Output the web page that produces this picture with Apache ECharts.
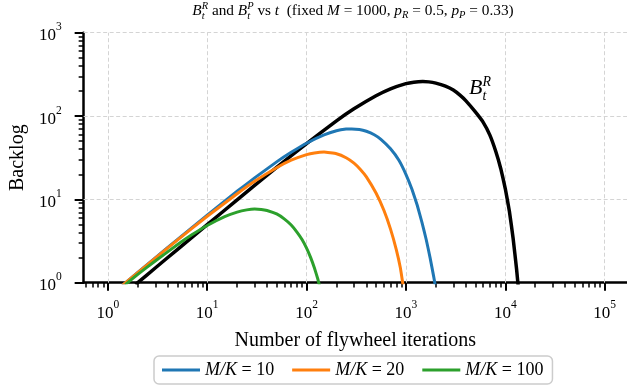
<!DOCTYPE html>
<html><head><meta charset="utf-8">
<script src="https://cdn.jsdelivr.net/npm/echarts@6/dist/echarts.min.js"></script>
<style>html,body{margin:0;padding:0;background:#fff}#c{width:627px;height:391px}</style>
</head><body><div id="c"></div>
<script>
const FONT = '"Liberation Serif", "DejaVu Serif", serif';

// ---- data ----
const tBlack = [1.9, 2, 3, 5, 10, 20, 30, 50, 100, 200, 300, 500, 700, 1000, 1200, 1480, 1700, 2000, 2500, 3000, 3500, 4000, 5000, 6000, 7000, 8000, 9000, 10000, 11000, 12000, 13000, 13700];
const bBlack = [0.95, 1.0, 1.5, 2.5, 4.97, 9.87, 14.7, 24.2, 46.7, 87.4, 122, 175, 212, 245, 255, 259, 257, 248, 228, 205, 178, 153, 112, 84, 59, 38, 23.5, 13.5, 7.2, 3.4, 1.45, 0.75];

const tBlue = [1.4, 2, 3, 5, 10, 20, 30, 50, 70, 100, 150, 200, 250, 285, 340, 400, 480, 560, 700, 850, 1000, 1150, 1300, 1450, 1600, 1750, 1900, 2000];
const bBlue = [0.93, 1.33, 1.99, 3.29, 6.47, 12.5, 18.1, 28.2, 36.7, 47.2, 59.4, 66.5, 69.7, 70.0, 69.1, 65.7, 59.7, 52.6, 40.5, 29.5, 20.0, 13.2, 8.5, 5.3, 3.3, 2.0, 1.2, 0.85];

const tOrange = [1.4, 2, 3, 5, 10, 20, 30, 50, 70, 100, 120, 150, 200, 250, 300, 350, 400, 500, 600, 700, 800, 880, 940];
const bOrange = [0.93, 1.32, 1.97, 3.24, 6.27, 11.7, 16.5, 24.0, 29.5, 34.4, 36.1, 37.0, 35.3, 31.6, 27.2, 22.7, 18.6, 11.9, 7.4, 4.4, 2.5, 1.5, 0.9];

const tGreen = [1.5, 2, 3, 5, 7, 10, 15, 20, 25, 30, 35, 40, 50, 60, 70, 80, 90, 100, 110, 120, 130, 137];
const bGreen = [0.95, 1.26, 1.82, 2.85, 3.75, 4.86, 6.2, 7.03, 7.48, 7.66, 7.58, 7.35, 6.68, 5.8, 4.92, 4.05, 3.3, 2.6, 2.0, 1.5, 1.1, 0.85];

const seriesNames = ['M/K = 10', 'M/K = 20', 'M/K = 100'];
const seriesColors = ['#1f77b4', '#ff7f0e', '#2ca02c'];

const xMajor = [1, 10, 100, 1000, 10000, 100000];
const xExp = ['0', '1', '2', '3', '4', '5'];
const yMajor = [1, 10, 100, 1000];
const yExp = ['0', '1', '2', '3'];
const xMin = 0.5705, xMax = 168000;
const yMin = 1, yMax = 1000;

// minor tick positions (2..9 times each decade)
const xMinor = [0.6, 0.7, 0.8, 0.9];
[1, 10, 100, 1000, 10000].forEach(d => { for (let k = 2; k <= 9; k++) xMinor.push(k * d); });
const yMinor = [];
[1, 10, 100].forEach(d => { for (let k = 2; k <= 9; k++) yMinor.push(k * d); });

const zip = (a, b) => a.map((v, i) => [v, b[i]]);

const rich = {
  b: { fontFamily: FONT, fontSize: 17, color: '#000', verticalAlign: 'bottom' },
  s: { fontFamily: FONT, fontSize: 11.5, color: '#000', verticalAlign: 'bottom', padding: [0, 0, 11, 0] }
};
const fmt = (majors, exps) => v => {
  let i = majors.findIndex(m => Math.abs(Math.log10(m) - Math.log10(v)) < 1e-6);
  return '{b|10}{s|' + (i >= 0 ? exps[i] : '') + '}';
};

// ---- math-like text layout helper (for title and annotation) ----
const mctx = document.createElement('canvas').getContext('2d');
function measure(text, size, italic) {
  mctx.font = (italic ? 'italic ' : '') + size + 'px ' + FONT;
  return mctx.measureText(text).width;
}
function mathText(segs, startX, baseline, centerX) {
  let items = [], x = 0;
  segs.forEach(s => {
    if (s.stack) {
      let w = 0;
      s.stack.forEach(p => {
        items.push({ text: p.t, size: p.size, italic: p.it, x: x, dy: p.dy });
        w = Math.max(w, measure(p.t, p.size, p.it));
      });
      x += w;
    } else {
      items.push({ text: s.t, size: s.size, italic: s.it, x: x, dy: s.dy || 0 });
      x += measure(s.t, s.size, s.it);
    }
  });
  const total = x;
  const x0 = centerX != null ? centerX - total / 2 : startX;
  return items.map(it => ({
    type: 'text',
    silent: true,
    style: {
      text: it.text, x: x0 + it.x, y: baseline + it.dy - 0.34 * it.size,
      fontFamily: FONT, fontSize: it.size, fontStyle: it.italic ? 'italic' : 'normal',
      fill: '#000', align: 'left', verticalAlign: 'middle'
    }
  }));
}

const T = 15.3, S = 10.5;
const titleSegs = [
  { t: 'B', size: T, it: true },
  { stack: [{ t: 'R', size: S, it: true, dy: -6 }, { t: 't', size: S, it: true, dy: 3.5 }] },
  { t: ' and ', size: T },
  { t: 'B', size: T, it: true },
  { stack: [{ t: 'P', size: S, it: true, dy: -6 }, { t: 't', size: S, it: true, dy: 3.5 }] },
  { t: ' vs ', size: T },
  { t: 't', size: T, it: true },
  { t: '  (fixed ', size: T },
  { t: 'M', size: T, it: true },
  { t: ' = 1000, ', size: T },
  { t: 'p', size: T, it: true },
  { t: 'R', size: S, it: true, dy: 3 },
  { t: ' = 0.5, ', size: T },
  { t: 'p', size: T, it: true },
  { t: 'P', size: S, it: true, dy: 3 },
  { t: ' = 0.33)', size: T }
];
const annSegs = [
  { t: 'B', size: 22, it: true },
  { stack: [{ t: 'R', size: 14, it: true, dy: -9 }, { t: 't', size: 14, it: true, dy: 5.5 }] }
];

const graphics = [].concat(
  mathText(titleSegs, null, 16, 353),
  mathText(annSegs, 469, 96, null)
);

const chart = echarts.init(document.getElementById('c'), null, { renderer: 'canvas' });

const gridLineData = xMajor.map(v => ({ xAxis: v })).concat([10, 100, 1000].map(v => ({ yAxis: v })));

const mkSeries = (name, t, b, color, width, extra) => Object.assign({
  name: name, type: 'line', data: zip(t, b), symbol: 'none', showSymbol: false,
  smooth: 0.1,
  color: color, itemStyle: { color: color }, lineStyle: { color: color, width: width, join: 'round' }, clip: true, z: 3,
  xAxisIndex: 0, yAxisIndex: 0, animation: false
}, extra || {});

const option = {
  animation: false,
  backgroundColor: '#fff',
  grid: { left: 81.7, right: 0, top: 32.7, bottom: 108.3, containLabel: false },
  xAxis: [
    {
      type: 'log', logBase: 10, min: xMin, max: xMax, position: 'bottom',
      name: 'Number of flywheel iterations', nameLocation: 'middle', nameGap: 48,
      nameTextStyle: { fontFamily: FONT, fontSize: 20, color: '#000' },
      axisLine: { show: true, lineStyle: { color: '#000', width: 2.5 } },
      axisTick: { show: true, customValues: xMajor, length: 8, lineStyle: { color: '#000', width: 2 } },
      axisLabel: { show: true, customValues: xMajor, formatter: fmt(xMajor, xExp), rich: rich, margin: 16 },
      splitLine: { show: false }, minorTick: { show: false }, minorSplitLine: { show: false }
    },
    {
      type: 'log', logBase: 10, min: xMin, max: xMax, position: 'bottom',
      axisLine: { show: false },
      axisTick: { show: true, customValues: xMinor, length: 4.7, lineStyle: { color: '#000', width: 1.5 } },
      axisLabel: { show: false }, splitLine: { show: false }
    }
  ],
  yAxis: [
    {
      type: 'log', logBase: 10, min: yMin, max: yMax, position: 'left',
      name: 'Backlog', nameLocation: 'middle', nameGap: 54, nameRotate: 90,
      nameTextStyle: { fontFamily: FONT, fontSize: 20, color: '#000' },
      axisLine: { show: true, lineStyle: { color: '#000', width: 2.5 } },
      axisTick: { show: true, customValues: yMajor, length: 9, lineStyle: { color: '#000', width: 2 } },
      axisLabel: { show: true, customValues: yMajor, formatter: fmt(yMajor, yExp), rich: rich, margin: 22 },
      splitLine: { show: false }, minorTick: { show: false }
    },
    {
      type: 'log', logBase: 10, min: yMin, max: yMax, position: 'left',
      axisLine: { show: false },
      axisTick: { show: true, customValues: yMinor, length: 5, lineStyle: { color: '#000', width: 1.5 } },
      axisLabel: { show: false }, splitLine: { show: false }
    }
  ],
  legend: {
    data: seriesNames, left: 154, top: 356, orient: 'horizontal',
    icon: 'rect', itemWidth: 38, itemHeight: 3, itemGap: 18, padding: [4, 9, 4, 8],
    borderColor: '#cccccc', borderWidth: 1.5, borderRadius: 5, backgroundColor: '#fff',
    formatter: n => '{i|M/K}{r|' + n.slice(3) + '}',
    textStyle: {
      fontFamily: FONT, fontSize: 18, color: '#000', lineHeight: 20,
      rich: {
        i: { fontFamily: FONT, fontSize: 18, fontStyle: 'italic', color: '#000', lineHeight: 20 },
        r: { fontFamily: FONT, fontSize: 18, color: '#000', lineHeight: 20 }
      }
    }
  },
  graphic: graphics,
  series: [
    mkSeries('B_t^R', tBlack, bBlack, '#000000', 3.5, {
      z: 2,
      markLine: {
        silent: true, symbol: ['none', 'none'], z: 1, animation: false,
        label: { show: false },
        lineStyle: { color: '#d4d4d4', width: 1, type: [4, 2.5] },
        emphasis: { disabled: true },
        data: gridLineData
      }
    }),
    mkSeries(seriesNames[0], tBlue, bBlue, seriesColors[0], 3),
    mkSeries(seriesNames[1], tOrange, bOrange, seriesColors[1], 3),
    mkSeries(seriesNames[2], tGreen, bGreen, seriesColors[2], 3)
  ]
};
chart.setOption(option);
</script>
</body></html>
